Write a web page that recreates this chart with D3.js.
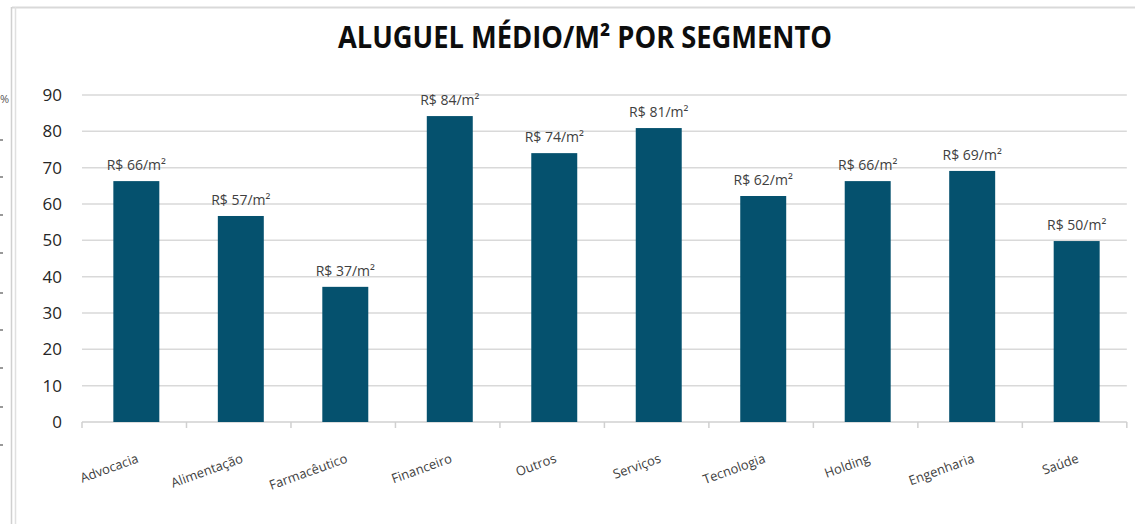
<!DOCTYPE html>
<meta charset="utf-8">
<script src="https://d3js.org/d3.v7.min.js"></script>
<style>
  body { margin: 0; background: #fff; }
  svg { display: block; font-family: "Open Sans", "Noto Sans", sans-serif; }
</style>
<div id="chart"></div>
<script>
    // data
    const categories = ["Advocacia", "Alimentação", "Farmacêutico", "Financeiro", "Outros",
        "Serviços", "Tecnologia", "Holding", "Engenharia", "Saúde"];
    const values = [66.3, 56.7, 37.2, 84.2, 74.0, 80.9, 62.2, 66.3, 69.1, 49.8];
    const yTicks = [0, 10, 20, 30, 40, 50, 60, 70, 80, 90];
    const title = "ALUGUEL MÉDIO/M² POR SEGMENTO";

    const W = 1135, H = 524;
    const margin = {top: 95, right: 4, bottom: 102, left: 82};

    const svg = d3.select("#chart").append("svg")
        .attr("width", W)
        .attr("height", H);

    // frame of the chart area (cut by the screenshot)
    svg.append("line").attr("x1", 12).attr("x2", W).attr("y1", 7.5).attr("y2", 7.5)
        .attr("stroke", "#d9d9d9").attr("stroke-width", 2);
    svg.append("line").attr("x1", 11.5).attr("x2", 11.5).attr("y1", 7).attr("y2", H)
        .attr("stroke", "#d0d0d0").attr("stroke-width", 1.5);
    svg.append("line").attr("x1", 15.5).attr("x2", 15.5).attr("y1", 7).attr("y2", H)
        .attr("stroke", "#e0e0e0").attr("stroke-width", 1.5);
    // leftover of the neighbour chart
    svg.append("text").attr("x", 0).attr("y", 103).attr("font-size", 11).attr("fill", "#555").text("%");
    svg.selectAll(".stub").data([140, 177, 215, 253, 293, 330, 368, 407, 445]).join("line")
        .attr("x1", 0).attr("x2", 3).attr("y1", d => d).attr("y2", d => d)
        .attr("stroke", "#777").attr("stroke-width", 1.5);

    const x = d3.scaleBand()
        .domain(categories)
        .range([margin.left, W - margin.right])
        .paddingInner(0.56)
        .paddingOuter(0.3);

    const y = d3.scaleLinear()
        .domain([0, 90])
        .range([H - margin.bottom, margin.top]);

    const step = x.step();
    const x0 = margin.left;
    const x1 = x0 + categories.length * step;

    // title
    svg.append("text")
        .attr("x", 585)
        .attr("y", 48)
        .attr("text-anchor", "middle")
        .attr("font-size", 30)
        .attr("font-weight", "bold")
        .attr("fill", "#0d0d0d")
        .attr("textLength", 494)
        .attr("lengthAdjust", "spacingAndGlyphs")
        .text(title);

    // gridlines
    svg.append("g")
        .selectAll("line")
        .data(yTicks.slice(1))
        .join("line")
        .attr("x1", x0)
        .attr("x2", x1)
        .attr("y1", d => y(d))
        .attr("y2", d => y(d))
        .attr("stroke", "#d9d9d9")
        .attr("stroke-width", 1.5);

    // y axis
    const yAxis = svg.append("g")
        .attr("transform", `translate(${margin.left - 20},0)`)
        .call(d3.axisLeft(y).tickValues(yTicks).tickSize(0).tickPadding(0));
    yAxis.select(".domain").remove();
    yAxis.selectAll("text")
        .attr("font-size", 17)
        .attr("font-family", "Open Sans, sans-serif")
        .attr("fill", "#262626");

    // x axis with tick marks between categories
    const xAxis = svg.append("g");
    xAxis.append("line")
        .attr("x1", x0).attr("x2", x1)
        .attr("y1", y(0)).attr("y2", y(0))
        .attr("stroke", "#d0d0d0").attr("stroke-width", 1.5);
    xAxis.selectAll(".tick")
        .data(d3.range(categories.length + 1))
        .join("line")
        .attr("x1", i => x0 + i * step)
        .attr("x2", i => x0 + i * step)
        .attr("y1", y(0))
        .attr("y2", y(0) + 6)
        .attr("stroke", "#d0d0d0").attr("stroke-width", 1.5);

    // category labels
    xAxis.selectAll(".cat")
        .data(categories)
        .join("text")
        .attr("text-anchor", "end")
        .attr("font-size", 13)
        .attr("fill", "#404040")
        .attr("transform", d => `translate(${x(d) + x.bandwidth() / 2 + 3},${y(0) + 40}) rotate(-20)`)
        .text(d => d);

    // bars
    const data = categories.map((c, i) => ({cat: c, v: values[i]}));
    svg.append("g")
        .selectAll("rect")
        .data(data)
        .join("rect")
        .attr("x", d => x(d.cat))
        .attr("y", d => y(d.v))
        .attr("width", x.bandwidth())
        .attr("height", d => y(0) - y(d.v))
        .attr("fill", "#05516e");

    // value labels
    svg.append("g")
        .selectAll("text")
        .data(data)
        .join("text")
        .attr("x", d => x(d.cat) + x.bandwidth() / 2)
        .attr("y", d => y(d.v) - 11)
        .attr("text-anchor", "middle")
        .attr("font-size", 14)
        .attr("fill", "#404040")
        .text(d => `R$ ${Math.round(d.v)}/m²`);
</script>
